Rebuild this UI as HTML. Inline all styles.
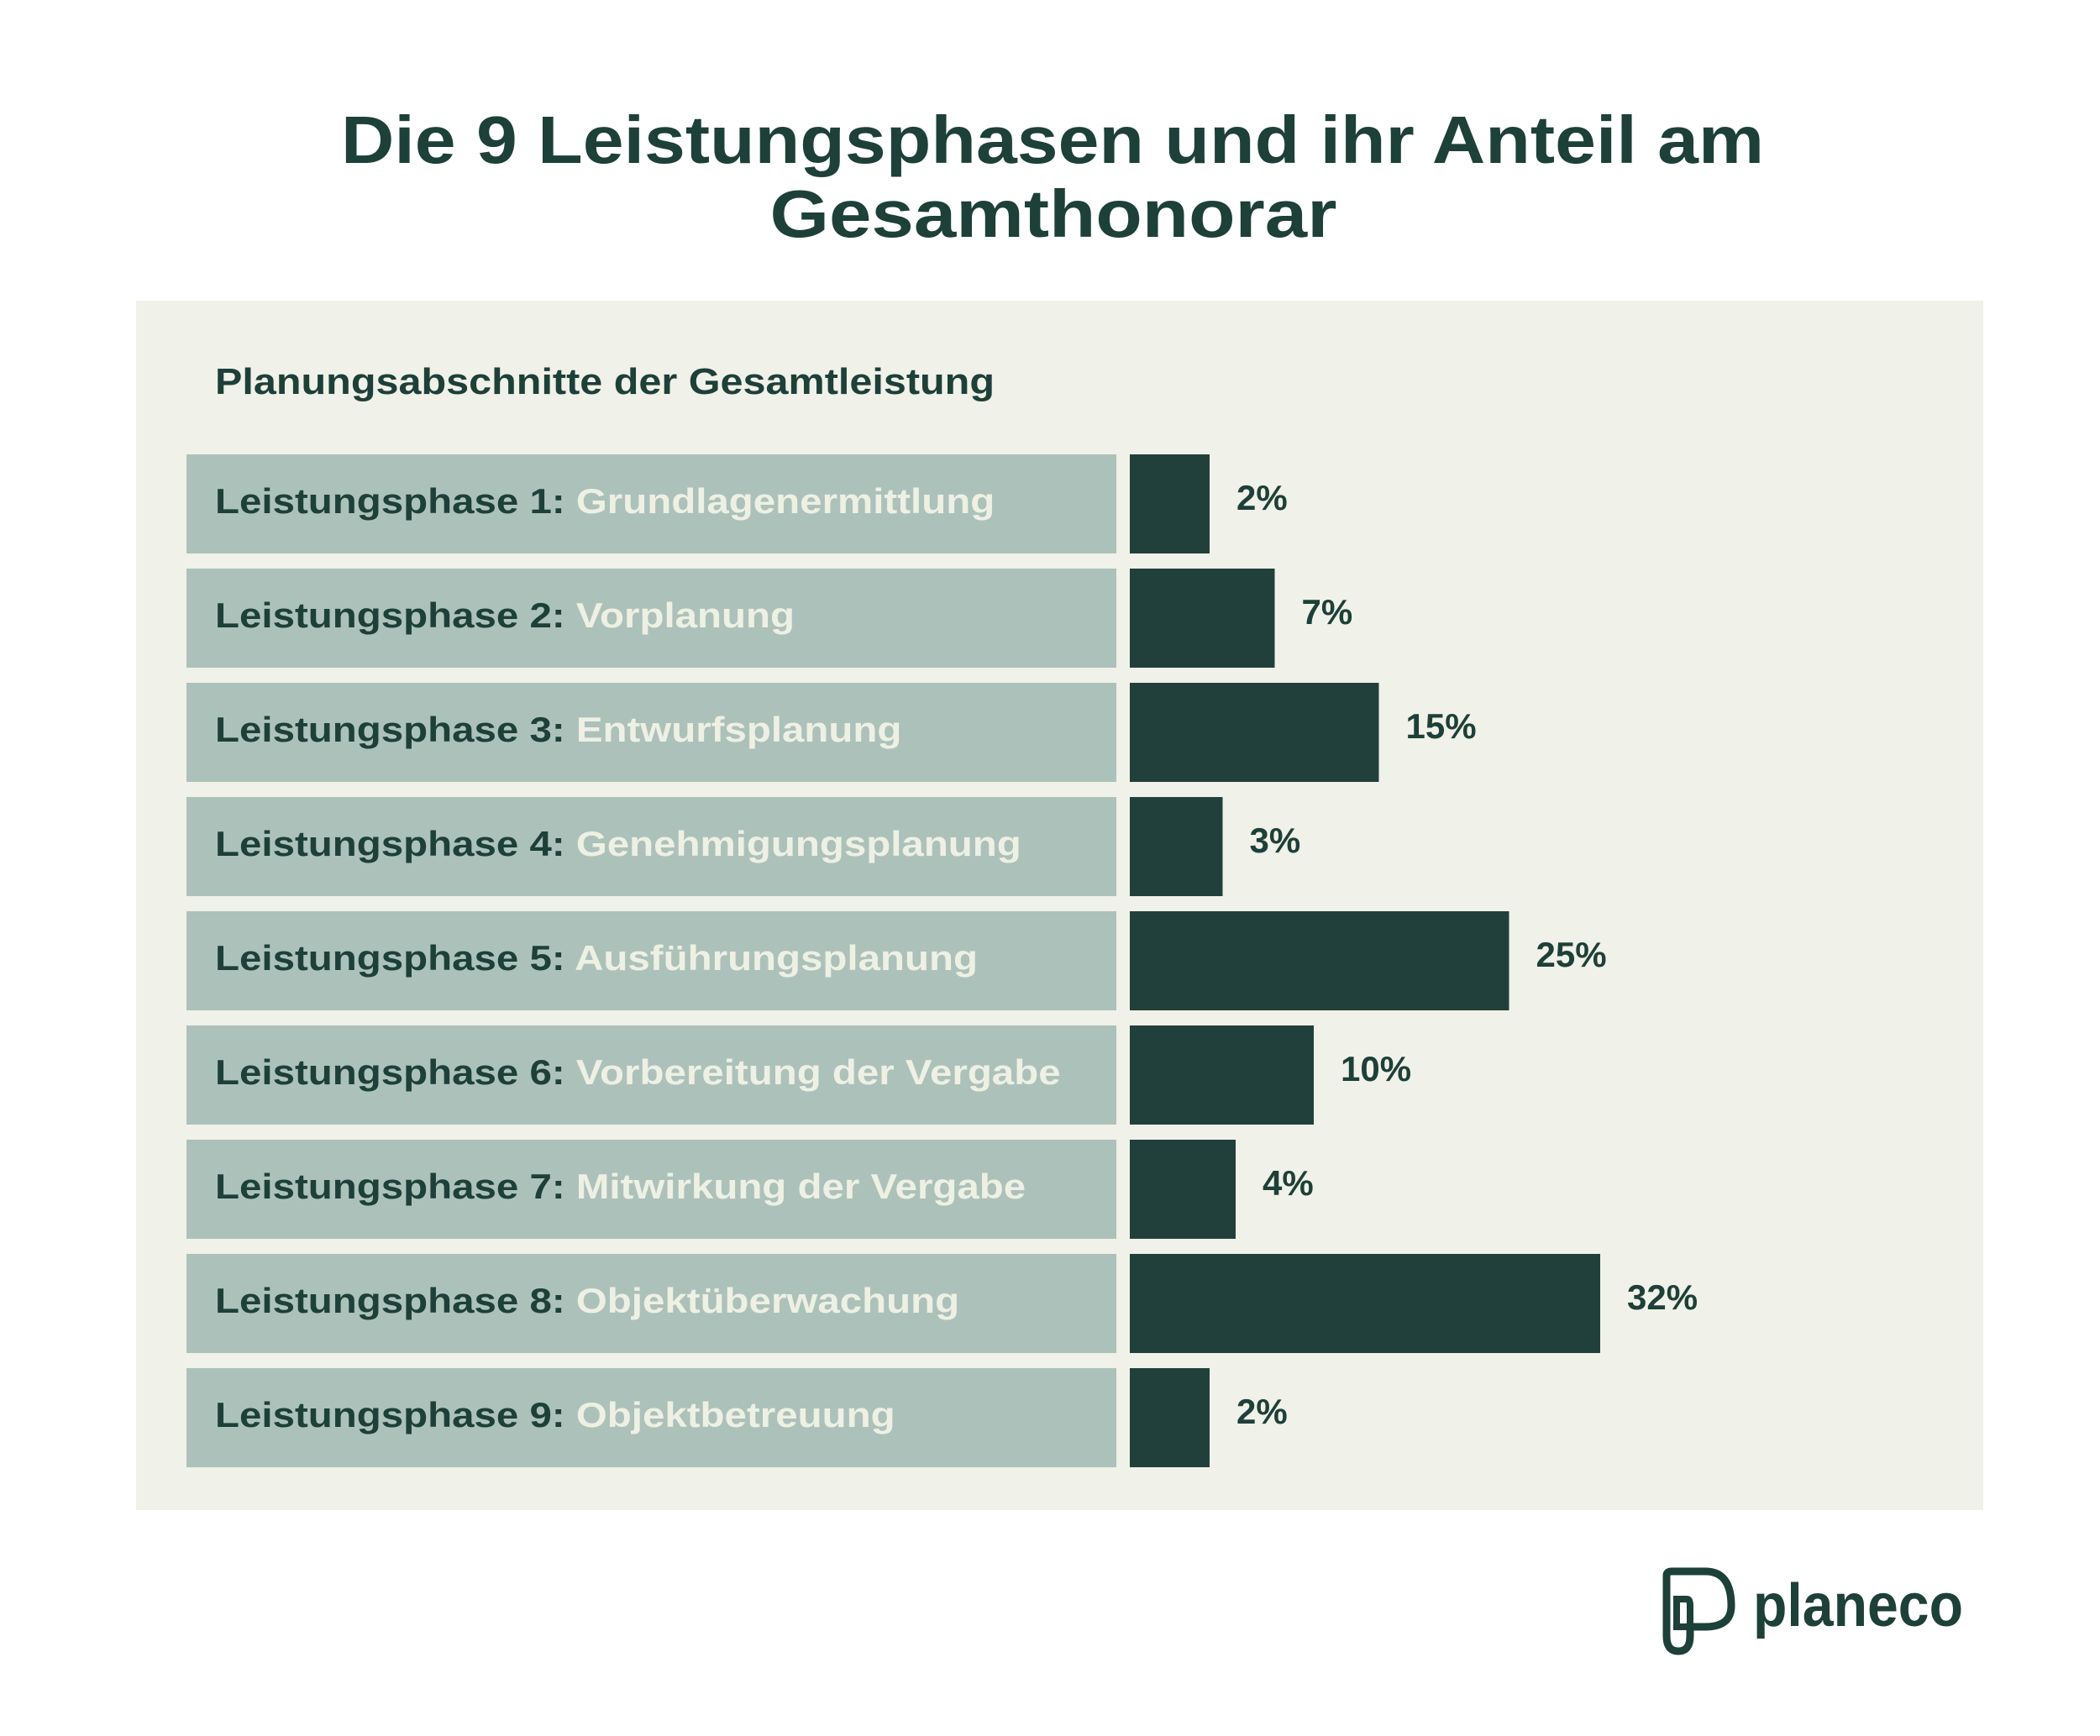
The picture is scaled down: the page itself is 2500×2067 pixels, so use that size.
<!DOCTYPE html>
<html><head><meta charset="utf-8"><style>
html,body{margin:0;padding:0;background:#fff;}
svg{display:block;font-family:"Liberation Sans",sans-serif;}
</style></head><body>
<svg id="chart" width="2500" height="2067" viewBox="0 0 2500 2067" xmlns="http://www.w3.org/2000/svg">
<rect x="0" y="0" width="2500" height="2067" fill="#ffffff"/>
<text x="1253" y="194" text-anchor="middle" font-size="80" font-weight="bold" fill="#1d4038" textLength="1694" lengthAdjust="spacingAndGlyphs">Die 9 Leistungsphasen und ihr Anteil am</text>
<text x="1254" y="282" text-anchor="middle" font-size="80" font-weight="bold" fill="#1d4038" textLength="675" lengthAdjust="spacingAndGlyphs">Gesamthonorar</text>
<rect x="162" y="358" width="2199" height="1440" fill="#f0f1e8"/>
<text x="256" y="469" font-size="44" font-weight="bold" fill="#1d4038" textLength="928" lengthAdjust="spacingAndGlyphs">Planungsabschnitte der Gesamtleistung</text>
<g id="rows"></g>
<g>
<path d="M1984 1905 V1876 Q1984 1871 1990 1871 H2030 Q2061 1871 2061 1912 Q2061 1937 2030 1937 H2012 V1948 Q2012 1966 1998 1966 Q1984 1966 1984 1948 Z" fill="none" stroke="#1d4038" stroke-width="9"/>
<path d="M1996 1904 H2008 Q2012 1904 2012 1912 V1937 H1996 Z" fill="none" stroke="#1d4038" stroke-width="8"/>
<text x="2087" y="1936" font-size="72" font-weight="bold" fill="#1d4038" textLength="250" lengthAdjust="spacingAndGlyphs">planeco</text>
</g>
</svg>
<script>
const phases = ["Leistungsphase 1:","Leistungsphase 2:","Leistungsphase 3:","Leistungsphase 4:","Leistungsphase 5:","Leistungsphase 6:","Leistungsphase 7:","Leistungsphase 8:","Leistungsphase 9:"];
const names = ["Grundlagenermittlung","Vorplanung","Entwurfsplanung","Genehmigungsplanung","Ausführungsplanung","Vorbereitung der Vergabe","Mitwirkung der Vergabe","Objektüberwachung","Objektbetreuung"];
const values = [2,7,15,3,25,10,4,32,2];

const NS = "http://www.w3.org/2000/svg";
const g = document.getElementById('rows');
const rowTop = i => 541 + i * 136;
const barW = v => 64 + 15.5 * v;
function mk(tag, attrs){ const e = document.createElementNS(NS, tag); for (const k in attrs) e.setAttribute(k, attrs[k]); return e; }
values.forEach((v, i) => {
  const y = rowTop(i);
  const box = mk('rect', {x:222, y:y, width:1107, height:118, fill:'#adc1bb'});
  
  
  g.appendChild(box);
  const t = mk('text', {x:256, y:y+70, 'font-size':42, 'font-weight':'bold', fill:'#1d4038'});
  
  
  const s1 = mk('tspan', {}); s1.textContent = phases[i] + ' ';
  const s2 = mk('tspan', {fill:'#eef0e4'}); s2.textContent = names[i];
  t.appendChild(s1); t.appendChild(s2);
  g.appendChild(t);
  const len = t.getComputedTextLength();
  t.setAttribute('textLength', (len * 1.13).toFixed(1));
  t.setAttribute('lengthAdjust', 'spacingAndGlyphs');
  const w = barW(v);
  const bar = mk('rect', {x:1345, y:y, width:w, height:118, fill:'#22403b'});
  
  
  g.appendChild(bar);
  const lab = mk('text', {x:1345 + w + 32, y:y+66, 'font-size':42, 'font-weight':'bold', fill:'#1d4038'});
  
  
  lab.textContent = v + '%';
  g.appendChild(lab);
});
</script>
</body></html>
